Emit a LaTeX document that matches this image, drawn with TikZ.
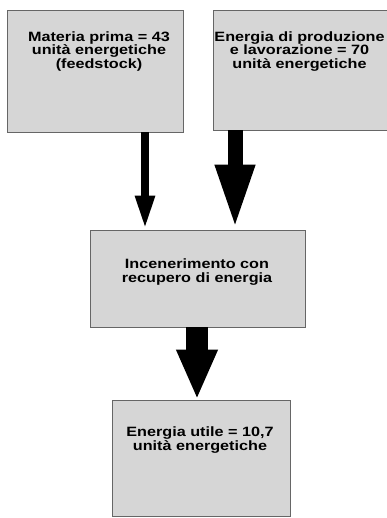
\documentclass[tikz,border=0pt]{standalone}
\usepackage{fontspec}
\setmainfont{Liberation Sans}[FakeStretch = 1.2]
\usetikzlibrary{arrows.meta,positioning}
\tikzset{
	box/.style = {draw = black!60, fill = black!16, line width = 0.8pt, inner sep = 0pt},
	txt/.style = {align = center, font = \fontsize{13.5}{13.6}\selectfont\bfseries, inner sep = 0pt},
}
\begin{document}
\begin{tikzpicture}[x = 1pt, y = -1pt]
	\useasboundingbox (0,0) rectangle (386,518);
	% boxes
	\node [box, minimum width = 176, minimum height = 122] (materia) at (95,71) {};
	\node [box, minimum width = 175, minimum height = 120] (energia) at (300.5,70) {};
	\node [box, minimum width = 215, minimum height = 97] (incener) at (197.5,278.5) {};
	\node [box, minimum width = 178, minimum height = 116] (utile) at (201,458) {};
	% texts
	\node [txt] (tmateria) at (99,51.5) {Materia prima = 43\\unità energetiche\\(feedstock)};
	\node [txt] (tenergia) at (299.5,51.5) {Energia di produzione\\e lavorazione = 70\\unità energetiche};
	\node [txt] (tincener) at (197,272) {Incenerimento con\\recupero di energia};
	\node [txt] (tutile) at (200,440) {Energia utile = 10,7\\unità energetiche};
	% arrows
	\coordinate (a1) at (145,0);
	\coordinate (a2) at (235,0);
	\coordinate (a3) at (197,0);
	\draw [line width = 8pt, -{Triangle[width = 18pt, length = 34pt]}] (a1 |- materia.south) -- (a1 |- incener.north);
	\draw [line width = 15pt, -{Triangle[width = 36pt, length = 65pt]}] (a2 |- energia.south) -- (a2 |- incener.north);
	\draw [line width = 22pt, -{Triangle[width = 38pt, length = 50pt]}] (a3 |- incener.south) -- (a3 |- utile.north);
\end{tikzpicture}
\end{document}
